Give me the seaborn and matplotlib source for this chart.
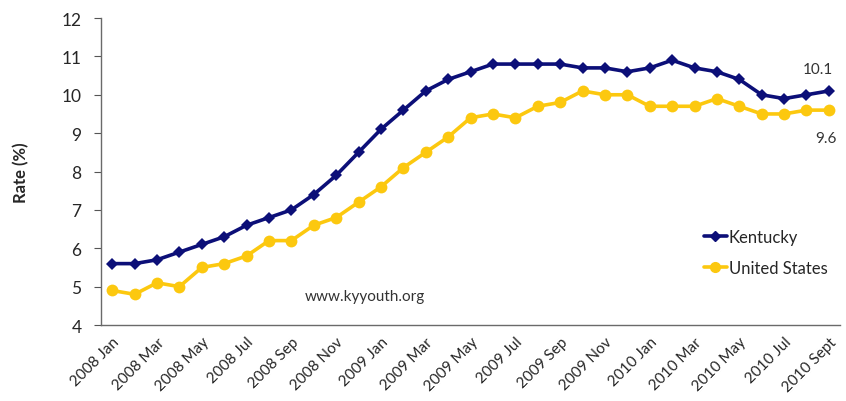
import matplotlib
matplotlib.use("Agg")
import matplotlib.pyplot as plt
import seaborn as sns
import pandas as pd
import numpy as np
from matplotlib.lines import Line2D

months = [
    "2008 Jan", "2008 Feb", "2008 Mar", "2008 Apr", "2008 May", "2008 Jun",
    "2008 Jul", "2008 Aug", "2008 Sep", "2008 Oct", "2008 Nov", "2008 Dec",
    "2009 Jan", "2009 Feb", "2009 Mar", "2009 Apr", "2009 May", "2009 Jun",
    "2009 Jul", "2009 Aug", "2009 Sep", "2009 Oct", "2009 Nov", "2009 Dec",
    "2010 Jan", "2010 Feb", "2010 Mar", "2010 Apr", "2010 May", "2010 Jun",
    "2010 Jul", "2010 Aug", "2010 Sept",
]
kentucky = [5.6, 5.6, 5.7, 5.9, 6.1, 6.3, 6.6, 6.8, 7.0, 7.4, 7.9, 8.5,
            9.1, 9.6, 10.1, 10.4, 10.6, 10.8, 10.8, 10.8, 10.8, 10.7, 10.7, 10.6,
            10.7, 10.9, 10.7, 10.6, 10.4, 10.0, 9.9, 10.0, 10.1]
united_states = [4.9, 4.8, 5.1, 5.0, 5.5, 5.6, 5.8, 6.2, 6.2, 6.6, 6.8, 7.2,
                 7.6, 8.1, 8.5, 8.9, 9.4, 9.5, 9.4, 9.7, 9.8, 10.1, 10.0, 10.0,
                 9.7, 9.7, 9.7, 9.9, 9.7, 9.5, 9.5, 9.6, 9.6]
y_ticks = [4, 5, 6, 7, 8, 9, 10, 11, 12]

sns.set_style("white")
plt.rcParams["font.family"] = ["Lato", "DejaVu Sans"]

pos = np.arange(len(months))
df = pd.concat([
    pd.DataFrame({"pos": pos, "rate": kentucky, "series": "Kentucky"}),
    pd.DataFrame({"pos": pos, "rate": united_states, "series": "United States"}),
])

navy = "#0c0f78"
gold = "#fcc80f"

fig = plt.figure(figsize=(8.46, 4.02), dpi=100)
ax = fig.add_axes([0.1194, 0.189, 0.8736, 0.7637])

sns.lineplot(
    data=df, x="pos", y="rate", hue="series", style="series",
    palette={"Kentucky": navy, "United States": gold},
    markers={"Kentucky": "D", "United States": "o"},
    dashes=False, linewidth=2.6, markeredgewidth=0,
    ax=ax, legend=False,
)
# marker sizes differ per series
for line, ms in zip(ax.get_lines(), [6, 8.5]):
    line.set_markersize(ms)

ax.set_xlim(-0.5, len(months) - 0.5)
ax.set_ylim(4, 12)
ax.set_yticks(y_ticks)
ax.set_yticklabels([str(t) for t in y_ticks], fontsize=12.5)

label_pos = pos[::2]
ax.set_xticks(label_pos)
ax.set_xticklabels([months[i] for i in label_pos], rotation=45, ha="right",
                   rotation_mode="anchor", fontsize=11)
ax.tick_params(axis="x", length=0, pad=7)
ax.set_xticks(np.arange(-0.5, len(months), 1), minor=True)
ax.tick_params(axis="x", which="minor", direction="out", length=5,
               color="#555555", width=0.8)
ax.tick_params(axis="y", direction="out", length=5, color="#555555",
               width=0.8, left=True, pad=9)

for side in ["top", "right"]:
    ax.spines[side].set_visible(False)
for side in ["left", "bottom"]:
    ax.spines[side].set_color("#6a6a6a")
    ax.spines[side].set_linewidth(1.0)

ax.set_xlabel("")
ax.set_ylabel("Rate (%)", fontsize=12, fontweight="bold", labelpad=23)

# end-of-series values
ax.annotate(f"{kentucky[-1]}", (pos[-1], kentucky[-1]), xytext=(-8, 16),
            textcoords="offset points", ha="center", va="center",
            fontsize=11, color="#333333")
ax.annotate(f"{united_states[-1]}", (pos[-1], united_states[-1]), xytext=(-2, -20),
            textcoords="offset points", ha="center", va="center",
            fontsize=11, color="#333333")

ax.text(11.3, 4.76, "www.kyyouth.org", ha="center", va="center",
        fontsize=11, color="#333333")

handles = [
    Line2D([], [], color=navy, marker="D", markersize=5.5, linewidth=2.6),
    Line2D([], [], color=gold, marker="o", markersize=7, linewidth=2.6),
]
ax.legend(handles, ["Kentucky", "United States"], loc="center left",
          bbox_to_anchor=(0.795, 0.237), frameon=False, fontsize=12,
          handlelength=1.4, handletextpad=0.1, labelspacing=0.9)

fig.savefig("out.png", dpi=100)
